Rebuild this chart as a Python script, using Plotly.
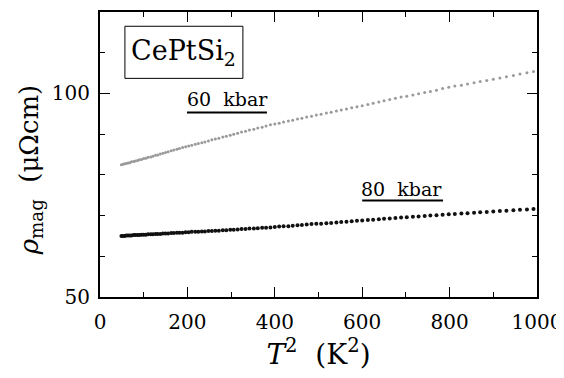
import plotly.graph_objects as go

# T^2 (K^2) positions of the measured points (shared by both pressures)
t2_values = [49, 53, 56, 60, 64, 68, 72, 77, 81, 86, 90, 95, 100, 105, 110, 116, 121, 127, 132, 138,
             144, 150, 156, 163, 169, 176, 182, 189, 196, 203, 210, 218, 225, 233, 240, 248, 256, 264, 272, 281,
             289, 298, 306, 315, 324, 333, 342, 352, 361, 371, 380, 390, 400, 410, 420, 431, 441, 452, 462, 473,
             484, 495, 506, 518, 529, 541, 552, 564, 576, 588, 600, 613, 625, 638, 650, 663, 676, 689, 702, 716,
             729, 743, 756, 770, 784, 798, 812, 827, 841, 856, 870, 885, 900, 915, 930, 946, 961, 977, 992]

rho_60kbar = [82.5, 82.6, 82.7, 82.8, 82.9, 83.0, 83.2, 83.3, 83.4, 83.5, 83.7, 83.8, 84.0, 84.1, 84.3, 84.4, 84.6, 84.8, 84.9, 85.1,
              85.3, 85.5, 85.7, 85.9, 86.1, 86.3, 86.5, 86.7, 86.9, 87.1, 87.3, 87.5, 87.7, 87.9, 88.1, 88.3, 88.6, 88.8, 89.0, 89.3,
              89.5, 89.7, 90.0, 90.2, 90.5, 90.7, 91.0, 91.2, 91.5, 91.7, 92.0, 92.3, 92.5, 92.7, 93.0, 93.2, 93.4, 93.7, 93.9, 94.2,
              94.4, 94.7, 94.9, 95.2, 95.4, 95.7, 95.9, 96.2, 96.5, 96.7, 97.0, 97.3, 97.6, 97.9, 98.2, 98.5, 98.8, 99.1, 99.3, 99.6,
              99.9, 100.2, 100.5, 100.8, 101.2, 101.5, 101.8, 102.0, 102.3, 102.6, 102.9, 103.2, 103.5, 103.8, 104.1, 104.4, 104.8, 105.1, 105.4]

rho_80kbar = [65.0, 65.0, 65.0, 65.1, 65.1, 65.1, 65.1, 65.2, 65.2, 65.2, 65.2, 65.3, 65.3, 65.3, 65.4, 65.4, 65.4, 65.5, 65.5, 65.5,
              65.6, 65.6, 65.6, 65.7, 65.7, 65.8, 65.8, 65.8, 65.9, 65.9, 66.0, 66.0, 66.0, 66.1, 66.1, 66.2, 66.2, 66.3, 66.3, 66.4,
              66.4, 66.5, 66.5, 66.6, 66.7, 66.7, 66.8, 66.8, 66.9, 67.0, 67.0, 67.1, 67.2, 67.3, 67.4, 67.4, 67.5, 67.6, 67.7, 67.8,
              67.9, 68.0, 68.0, 68.1, 68.2, 68.3, 68.4, 68.5, 68.6, 68.7, 68.8, 68.9, 69.0, 69.1, 69.2, 69.3, 69.4, 69.5, 69.6, 69.7,
              69.8, 69.9, 70.0, 70.1, 70.2, 70.3, 70.4, 70.5, 70.6, 70.7, 70.8, 70.9, 71.0, 71.1, 71.2, 71.3, 71.4, 71.5, 71.6]

x_tick_vals = [0, 200, 400, 600, 800, 1000]
x_tick_text = ["0", "200", "400", "600", "800", "1000"]
y_tick_vals = [50, 100]
y_tick_text = ["50", "100"]

FONT = "DejaVu Serif"

n = min(len(t2_values), len(rho_60kbar), len(rho_80kbar))

fig = go.Figure()
fig.add_trace(go.Scatter(x=t2_values[:n], y=rho_60kbar[:n], mode="markers",
                         marker=dict(size=3, color="#9a9a9a", line=dict(width=0)),
                         showlegend=False, name="60 kbar"))
fig.add_trace(go.Scatter(x=t2_values[:n], y=rho_80kbar[:n], mode="markers",
                         marker=dict(size=4, color="#111111", line=dict(width=0)),
                         showlegend=False, name="80 kbar"))

axis_common = dict(showline=True, linecolor="black", linewidth=2, mirror="ticks",
                   ticks="inside", ticklen=10, tickwidth=1, tickcolor="black",
                   showgrid=False, zeroline=False, automargin=False,
                   ticklabeloverflow="allow",
                   tickfont=dict(family=FONT, size=20, color="black"))

fig.update_xaxes(range=[0, 1000], tickvals=x_tick_vals, ticktext=x_tick_text,
                 ticklabelstandoff=6,
                 minor=dict(dtick=100, ticks="inside", ticklen=5, tickcolor="black", showgrid=False),
                 title=dict(text="<i>T</i><sup>2</sup>  (K<sup>2</sup>)",
                            font=dict(family=FONT, size=28, color="black"), standoff=6),
                 **axis_common)
fig.update_yaxes(range=[50, 120], tickvals=y_tick_vals, ticktext=y_tick_text,
                 ticklabelstandoff=4,
                 minor=dict(dtick=10, ticks="inside", ticklen=5, tickcolor="black", showgrid=False),
                 **axis_common)

# Y axis title as annotation for exact placement
fig.add_annotation(text="<i>ρ</i><sub>mag</sub>  (μΩcm)", textangle=-90,
                   xref="paper", yref="paper", x=-0.16, y=0.445, xanchor="center", yanchor="middle",
                   showarrow=False, font=dict(family=FONT, size=26, color="black"))

# CePtSi2 box
fig.add_shape(type="rect", xref="x", yref="y", x0=57, x1=327, y0=103.7, y1=116.5,
              line=dict(color="black", width=1), fillcolor="white")
fig.add_annotation(text="CePtSi<sub>2</sub>", xref="x", yref="y", x=192, y=110.1,
                   showarrow=False, font=dict(family=FONT, size=27, color="black"))

# Pressure labels with underlines
fig.add_annotation(text="60  kbar", xref="x", yref="y", x=292, y=98.6,
                   showarrow=False, font=dict(family=FONT, size=19, color="black"))
fig.add_shape(type="line", xref="x", yref="y", x0=199, x1=382, y0=95.3, y1=95.3,
              line=dict(color="black", width=2))
fig.add_annotation(text="80  kbar", xref="x", yref="y", x=691, y=76.6,
                   showarrow=False, font=dict(family=FONT, size=19, color="black"))
fig.add_shape(type="line", xref="x", yref="y", x0=600, x1=785, y0=73.7, y1=73.7,
              line=dict(color="black", width=2))

# page has an 8 px body margin, so the figure is drawn at (8, 8)
fig.update_layout(width=556, height=370,
                  margin=dict(l=92, r=27, t=4, b=81),
                  paper_bgcolor="white", plot_bgcolor="white",
                  font=dict(family=FONT, color="black"))

fig.write_html("out.html")
